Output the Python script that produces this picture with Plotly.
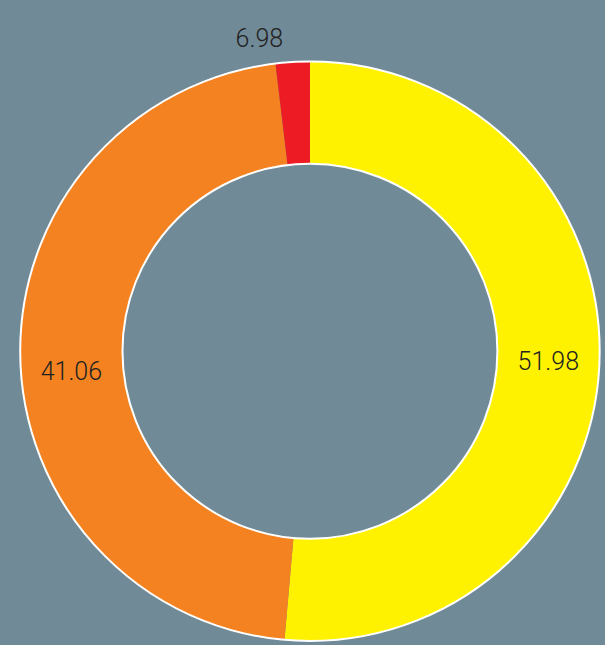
import plotly.graph_objects as go

# Slice shares as drawn in the reference (clockwise from 12 o'clock)
categories = ["Yellow", "Orange", "Red"]
shares = [51.4, 46.7, 1.9]
value_labels = ["51.98", "41.06", "6.98"]
colors = ["#FFF200", "#F58220", "#ED1C24"]

bg = "#718A97"
W, H = 605, 646
dom_x = [20 / W, 604 / W]
dom_y = [0.0, (H - 62) / H]

# label text (blank lines only nudge placement)
texts = [
    value_labels[0],
    "\u00a0<br>" + value_labels[1],
    "<span style='font-size:25px'>" + value_labels[2] + "</span><br>\u00a0",
]

fig = go.Figure()
fig.add_trace(go.Pie(
    labels=categories,
    values=shares,
    text=texts,
    textinfo="text",
    textposition=["inside", "inside", "outside"],
    insidetextorientation="horizontal",
    sort=False,
    direction="clockwise",
    rotation=0,
    hole=0.647,
    marker=dict(colors=colors, line=dict(width=0)),
    textfont=dict(family="Roboto", size=[25, 25, 10], color="#222222", weight=300),
    domain=dict(x=dom_x, y=dom_y),
    showlegend=False,
    hoverinfo="label+text",
))
# White outline on outer and inner edges of the ring
fig.add_trace(go.Pie(
    values=[1],
    textinfo="none",
    sort=False,
    hole=0.647,
    marker=dict(colors=["rgba(0,0,0,0)"], line=dict(color="white", width=2)),
    domain=dict(x=dom_x, y=dom_y),
    showlegend=False,
    hoverinfo="skip",
))
fig.update_layout(
    width=W, height=H,
    margin=dict(l=0, r=0, t=0, b=0),
    paper_bgcolor=bg, plot_bgcolor=bg,
)
fig.write_html(
    "out.html",
    config={"displayModeBar": False},
    post_script="document.body.style.margin='0';document.body.style.overflow='hidden';"
                "document.documentElement.style.overflow='hidden';"
                "document.body.style.background='" + bg + "';",
)
